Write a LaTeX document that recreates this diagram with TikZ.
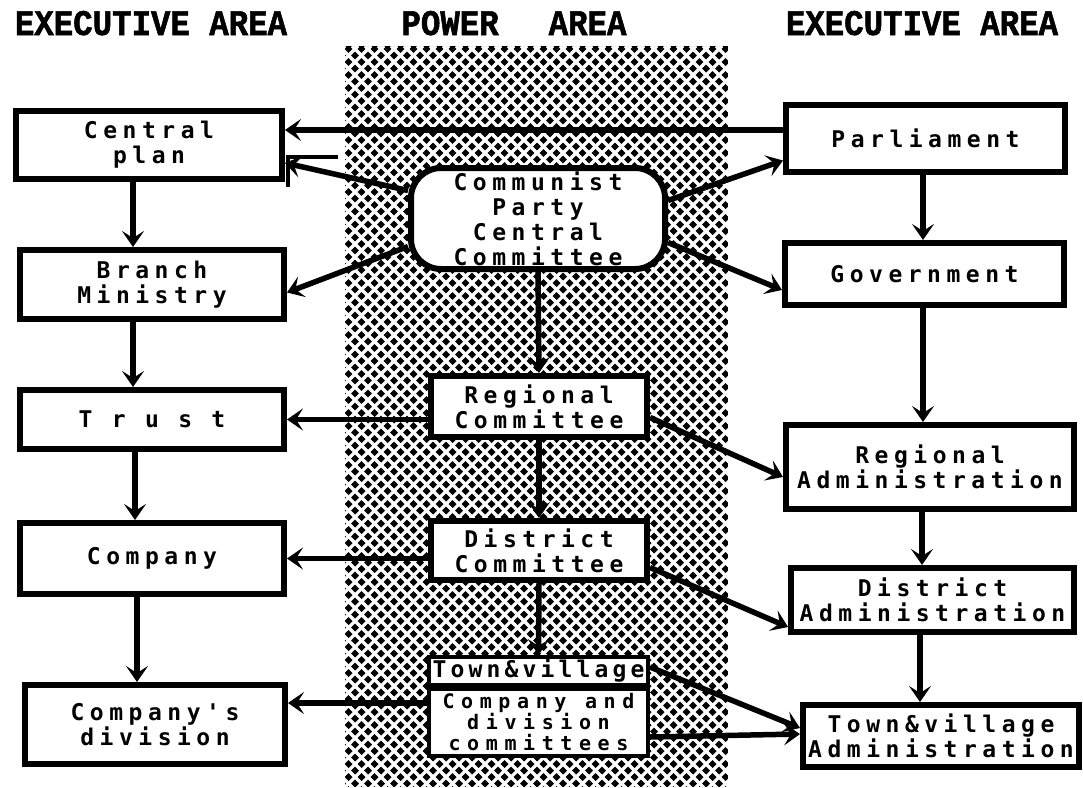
\documentclass[tikz,border=0pt]{standalone}
\usepackage{fontspec}
\usetikzlibrary{arrows.meta}
\newfontfamily\boxfont[LetterSpace=24]{DejaVu Sans Mono}
\newfontfamily\hdrfont[FakeStretch=0.9,FakeBold=1.5]{Liberation Mono}
\tikzset{
  box/.style={draw, line width=6pt, fill=white, inner sep=0pt, align=center,
    font=\boxfont\bfseries\fontsize{23}{25}\selectfont},
  arr/.style={line width=5.5pt, -{Stealth[length=16pt,width=22pt,inset=7pt]}},
  hdr/.style={font=\hdrfont\bfseries\fontsize{36}{36}\selectfont, anchor=base, inner sep=0pt},
  weave/.style={white, line width=3.2pt}
}
\begin{document}
\lineskiplimit=-20pt
\begin{tikzpicture}[x=1pt,y=-1pt]
\useasboundingbox (0,0) rectangle (1083,787);
\fill[white] (0,0) rectangle (1083,787);
% headers
\node[hdr] (hl) at (151,35) {EXECUTIVE AREA};
\node[hdr] (hc) at (514,35) {POWER\hspace{50pt}AREA};
\node[hdr] (hr) at (922,35) {EXECUTIVE AREA};
% power area band
\fill[black] (345,46) rectangle (728,787);
\begin{scope}
  \clip (345,46) rectangle (728,787);
  \foreach \i in {0,...,90} {
    \draw[weave] ({\i*13-415},46) -- ++(760,760);
    \draw[weave] ({\i*13+345},46) -- ++(-760,760);
  }
\end{scope}
% left column
\node[box, minimum width=266pt, minimum height=68pt] (cplan) at (149,145) {Central\\plan};
\node[box, minimum width=264pt, minimum height=69pt] (branch) at (152,284.5) {Branch\\Ministry};
\node[box, minimum width=264pt, minimum height=59pt] (trust) at (152,419.5) {T r u s t};
\node[box, minimum width=264pt, minimum height=71pt] (company) at (152,558.5) {Company};
\node[box, minimum width=260pt, minimum height=79pt] (cdiv) at (155,724.5) {Company's\\division};
% right column
\node[box, minimum width=279pt, minimum height=67pt] (parl) at (925.5,138.5) {Parliament};
\node[box, minimum width=279pt, minimum height=62pt] (gov) at (924.5,274) {Government};
\node[box, minimum width=288pt, minimum height=84pt] (radm) at (930,467) {Regional\\Administration};
\node[box, minimum width=283pt, minimum height=64pt] (dadm) at (932.5,600) {District\\Administration};
\node[box, minimum width=276pt, minimum height=62pt] (tadm) at (941,736) {Town\&village\\Administration};
% centre column
\node[box, rounded corners=30pt, minimum width=254pt, minimum height=101pt] (cpcc) at (538,218.5) {Communist\\Party\\Central\\Committee};
\node[box, minimum width=216pt, minimum height=61pt] (rcom) at (539,406.5) {Regional\\Committee};
\node[box, minimum width=216pt, minimum height=59pt] (dcom) at (539,550.5) {District\\Committee};
\node[box, line width=4pt, minimum width=219pt, minimum height=28pt,
  font=\boxfont\bfseries\fontsize{23}{25}\selectfont\addfontfeature{LetterSpace=18}] (tvil) at (538.5,671) {Town\&village};
\node[box, line width=4pt, minimum width=219pt, minimum height=67pt,
  font=\boxfont\bfseries\fontsize{20}{21}\selectfont\addfontfeature{LetterSpace=33}] (ccom) at (538.5,722.5) {Company and\\division\\committees};
% connectors
\draw[arr] ([yshift=8.5pt]parl.west) -- ([yshift=15pt]cplan.east);
\draw[arr] ([yshift=28pt]cpcc.west) -- ([yshift=-18pt]cplan.east);
\draw[arr] ([yshift=-28pt]cpcc.west) -- ([yshift=-8pt]branch.east);
\draw[arr] ([yshift=18pt]cpcc.east) -- ([yshift=-22pt]parl.west);
\draw[arr] ([yshift=-24pt]cpcc.east) -- ([yshift=-16pt]gov.west);
\draw[arr] (cpcc.south) -- (rcom.north);
\draw[arr] ([yshift=-13pt]rcom.west) -- (trust.east);
\draw[arr] ([yshift=-11pt]rcom.east) -- ([yshift=-10pt]radm.west);
\draw[arr] (rcom.south) -- (dcom.north);
\draw[arr] ([yshift=-8pt]dcom.west) -- (company.east);
\draw[arr] ([yshift=-17pt]dcom.east) -- ([yshift=-27pt]dadm.west);
\draw[arr] (dcom.south) -- (tvil.north);
\draw[arr] ([yshift=4pt]tvil.east) -- ([yshift=8pt]tadm.west);
\draw[arr] ([yshift=-14.5pt]ccom.east) -- ([yshift=2pt]tadm.west);
\draw[arr] ([yshift=19.5pt]ccom.west) -- ([yshift=21.5pt]cdiv.east);
% vertical chains
\draw[arr] ([xshift=-16pt]cplan.south) -- ([xshift=-19pt]branch.north);
\draw[arr] ([xshift=-19pt]branch.south) -- ([xshift=-19pt]trust.north);
\draw[arr] ([xshift=-17pt]trust.south) -- ([xshift=-17pt]company.north);
\draw[arr] ([xshift=-15pt]company.south) -- ([xshift=-18pt]cdiv.north);
\draw[arr] ([xshift=-2.5pt]parl.south) -- ([xshift=-1.5pt]gov.north);
\draw[arr] ([xshift=-1.5pt]gov.south) -- ([xshift=-7pt]radm.north);
\draw[arr] ([xshift=-8pt]radm.south) -- ([xshift=-10.5pt]dadm.north);
\draw[arr] ([xshift=-12.5pt]dadm.south) -- ([xshift=-21pt]tadm.north);
% small bracket mark beside Central plan
\draw[line width=4pt] (288,187) -- (288,157) -- (338,157);
\end{tikzpicture}
\end{document}
